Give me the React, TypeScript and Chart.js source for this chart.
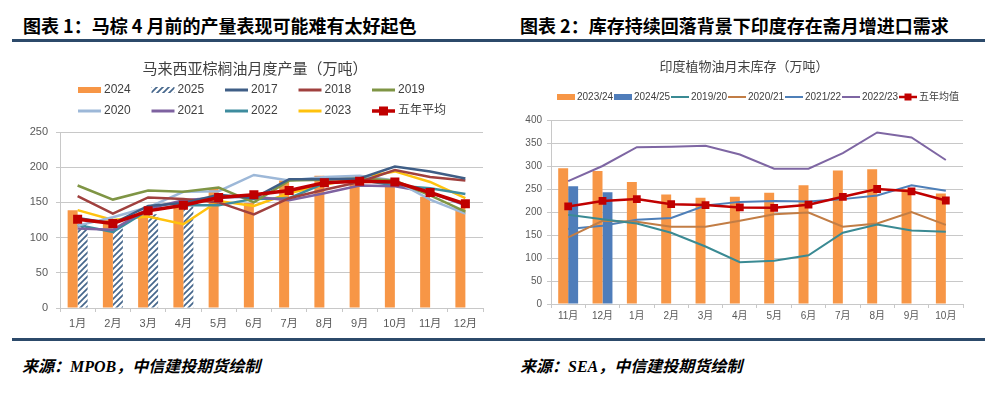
import React, { useEffect, useRef } from "react";
import { Chart, registerables } from "chart.js";
Chart.register(...registerables);

// ---------- Left chart data (Malaysia palm oil monthly production, 万吨) ----------
const MONTHS_MY = ["1月", "2月", "3月", "4月", "5月", "6月", "7月", "8月", "9月", "10月", "11月", "12月"];
const PROD_2024 = [139, 128, 137, 147, 170, 149, 181, 188, 179, 178, 158, 142];
const PROD_2025 = [120, 113, 133, 144, null, null, null, null, null, null, null, null];
const PROD_2017 = [128, 120, 145, 149, 161, 156, 183, 183, 184, 201, 194, 184];
const PROD_2018 = [159, 134, 157, 155, 150, 133, 156, 168, 179, 196, 186, 181];
const PROD_2019 = [174, 154, 167, 165, 171, 150, 181, 182, 184, 181, 160, 137];
const PROD_2020 = [117, 129, 143, 165, 166, 189, 181, 186, 188, 181, 154, 134];
const PROD_2021 = [113, 111, 141, 153, 157, 158, 153, 163, 174, 173, 164, 146];
const PROD_2022 = [118, 108, 139, 146, 146, 155, 156, 177, 182, 174, 170, 162];
const PROD_2023 = [139, 125, 130, 119, 152, 145, 163, 175, 185, 194, 179, 156];
const PROD_AVG5 = [126, 120, 138, 146, 157, 161, 167, 178, 180, 179, 164, 148];
const LEFT_Y_TICKS = [0, 50, 100, 150, 200, 250];

// ---------- Right chart data (India veg oil month-end stocks, 万吨) ----------
const MONTHS_IN = ["11月", "12月", "1月", "2月", "3月", "4月", "5月", "6月", "7月", "8月", "9月", "10月"];
const STOCK_2324 = [295, 289, 265, 238, 231, 233, 242, 258, 290, 293, 250, 240];
const STOCK_2425 = [256, 243, null, null, null, null, null, null, null, null, null, null];
const STOCK_1920 = [194, 184, 175, 155, 125, 91, 94, 106, 155, 173, 160, 157];
const STOCK_2021 = [145, 181, 179, 168, 168, 181, 195, 199, 168, 175, 200, 172];
const STOCK_2122 = [163, 170, 183, 187, 214, 222, 224, 223, 228, 236, 258, 246];
const STOCK_2223 = [267, 300, 341, 342, 344, 325, 294, 294, 328, 373, 362, 313];
const STOCK_AVG5 = [212, 224, 228, 217, 215, 210, 209, 216, 233, 250, 245, 225];
const RIGHT_Y_TICKS = [0, 50, 100, 150, 200, 250, 300, 350, 400];

const TICK_COLOR = "#595959";
const GRID_COLOR = "#C8C8C8";
const NAVY = "#2C4A6A";

function makeHatch(): CanvasPattern | string {
  const c = document.createElement("canvas");
  c.width = 6;
  c.height = 6;
  const g = c.getContext("2d");
  if (!g) return "#4A6A8C";
  g.fillStyle = "#ffffff";
  g.fillRect(0, 0, 6, 6);
  g.strokeStyle = "#46678C";
  g.lineWidth = 1.7;
  g.beginPath();
  g.moveTo(0, 6);
  g.lineTo(6, 0);
  g.moveTo(-3, 3);
  g.lineTo(3, -3);
  g.moveTo(3, 9);
  g.lineTo(9, 3);
  g.stroke();
  return g.createPattern(c, "repeat") || "#4A6A8C";
}

const overlayPlugin = {
  id: "overlay",
  afterDraw(chart: any, _args: any, o: any) {
    if (!o || !o.legend) return;
    const ctx = chart.ctx;
    ctx.save();
    // title
    ctx.font = o.titleFont;
    ctx.fillStyle = o.titleColor;
    ctx.textAlign = "center";
    ctx.textBaseline = "middle";
    ctx.fillText(o.title, o.titleX, o.titleY);
    // legend
    const L = o.legend;
    ctx.font = L.font;
    ctx.textAlign = "left";
    ctx.textBaseline = "middle";
    chart.data.datasets.forEach((ds: any, i: number) => {
      const col = i % L.cols;
      const row = Math.floor(i / L.cols);
      const x = L.x0 + col * L.colW;
      const y = L.y0 + row * L.rowH;
      if (ds.type === "bar") {
        ctx.fillStyle = ds.backgroundColor;
        ctx.fillRect(x, y - L.barH / 2, L.swW, L.barH);
      } else {
        ctx.strokeStyle = ds.borderColor;
        ctx.lineWidth = ds.pointRadius > 0 ? L.avgLineW : L.lineW;
        ctx.beginPath();
        ctx.moveTo(x, y);
        ctx.lineTo(x + L.swW, y);
        ctx.stroke();
        if (ds.pointRadius > 0) {
          const s = L.marker;
          ctx.fillStyle = ds.pointBackgroundColor;
          ctx.fillRect(x + L.swW / 2 - s / 2, y - s / 2, s, s);
        }
      }
      ctx.fillStyle = L.color;
      ctx.fillText(ds.label, x + L.swW + L.gap, y);
    });
    ctx.restore();
  },
};

function lineDs(label: string, data: number[], color: string, width: number) {
  return {
    type: "line",
    label,
    data,
    borderColor: color,
    backgroundColor: color,
    borderWidth: width,
    pointRadius: 0,
    pointHoverRadius: 0,
    tension: 0,
    order: 1,
  };
}

function avgDs(label: string, data: number[], width: number, radius: number) {
  return {
    type: "line",
    label,
    data,
    borderColor: "#C00000",
    backgroundColor: "#C00000",
    pointBackgroundColor: "#C00000",
    pointBorderColor: "#C00000",
    pointStyle: "rect",
    pointRadius: radius,
    pointBorderWidth: 0,
    borderWidth: width,
    tension: 0,
    order: 0,
  };
}

function LeftChart() {
  const ref = useRef<HTMLCanvasElement>(null);
  useEffect(() => {
    if (!ref.current) return;
    const tickFont = { family: "'Liberation Sans', 'Noto Sans CJK SC', sans-serif", size: 11 };
    const chart = new Chart(ref.current, {
      type: "bar",
      data: {
        labels: MONTHS_MY,
        datasets: [
          { type: "bar", label: "2024", data: PROD_2024, backgroundColor: "#F79646", order: 5, barPercentage: 1, categoryPercentage: 0.567 },
          { type: "bar", label: "2025", data: PROD_2025, backgroundColor: makeHatch(), order: 5, barPercentage: 1, categoryPercentage: 0.567 },
          lineDs("2017", PROD_2017, "#3F5E86", 2.5),
          lineDs("2018", PROD_2018, "#A0403E", 2.5),
          lineDs("2019", PROD_2019, "#7F9545", 2.5),
          lineDs("2020", PROD_2020, "#9DB8D8", 2.5),
          lineDs("2021", PROD_2021, "#7E62A0", 2.5),
          lineDs("2022", PROD_2022, "#3E8C9E", 2.5),
          lineDs("2023", PROD_2023, "#FFC20E", 2.5),
          avgDs("五年平均", PROD_AVG5, 3.5, 6.4),
        ] as any,
      },
      options: {
        animation: false,
        responsive: false,
        devicePixelRatio: 1,
        events: [],
        layout: { padding: { top: 84, left: 10, right: 15, bottom: 8 } },
        plugins: {
          legend: { display: false },
          tooltip: { enabled: false },
          title: { display: false },
          overlay: {
            title: "马来西亚棕榈油月度产量（万吨）",
            titleFont: "15px 'Noto Sans CJK SC', sans-serif",
            titleColor: "#404040",
            titleX: 245,
            titleY: 20,
            legend: {
              x0: 68, y0: 42, colW: 73.5, rowH: 21, cols: 5, swW: 23, barH: 6, gap: 3,
              lineW: 3, avgLineW: 3.5, marker: 9,
              font: "12px 'Liberation Sans', 'Noto Sans CJK SC', sans-serif",
              color: "#404040",
            },
          },
        } as any,
        scales: {
          x: {
            grid: { display: true, drawOnChartArea: false, drawTicks: true, tickLength: 4, color: GRID_COLOR, offset: true },
            border: { color: GRID_COLOR },
            ticks: { font: tickFont, color: TICK_COLOR, padding: 5, maxRotation: 0, autoSkip: false },
            afterFit: (s: any) => { s.height = 22; },
          },
          y: {
            min: 0,
            max: 250,
            afterBuildTicks: (s: any) => { s.ticks = LEFT_Y_TICKS.map((v) => ({ value: v })); },
            grid: { color: GRID_COLOR, tickLength: 4, drawTicks: true },
            border: { color: GRID_COLOR },
            ticks: { font: tickFont, color: TICK_COLOR, padding: 8 },
            afterFit: (s: any) => { s.width = 40; },
          },
        },
      } as any,
      plugins: [overlayPlugin],
    });
    return () => chart.destroy();
  }, []);
  return <canvas ref={ref} width={488} height={290} />;
}

function RightChart() {
  const ref = useRef<HTMLCanvasElement>(null);
  useEffect(() => {
    if (!ref.current) return;
    const tickFont = { family: "'Liberation Sans', 'Noto Sans CJK SC', sans-serif", size: 10 };
    const chart = new Chart(ref.current, {
      type: "bar",
      data: {
        labels: MONTHS_IN,
        datasets: [
          { type: "bar", label: "2023/24", data: STOCK_2324, backgroundColor: "#F79646", order: 5, barPercentage: 1, categoryPercentage: 0.58 },
          { type: "bar", label: "2024/25", data: STOCK_2425, backgroundColor: "#4F7DBA", order: 5, barPercentage: 1, categoryPercentage: 0.58 },
          lineDs("2019/20", STOCK_1920, "#3A8A93", 2),
          lineDs("2020/21", STOCK_2021, "#C27D45", 2),
          lineDs("2021/22", STOCK_2122, "#4E7FB8", 2),
          lineDs("2022/23", STOCK_2223, "#7E66A3", 2),
          avgDs("五年均值", STOCK_AVG5, 2.5, 5.5),
        ] as any,
      },
      options: {
        animation: false,
        responsive: false,
        devicePixelRatio: 1,
        events: [],
        layout: { padding: { top: 72, left: 10, right: 30, bottom: 14 } },
        plugins: {
          legend: { display: false },
          tooltip: { enabled: false },
          title: { display: false },
          overlay: {
            title: "印度植物油月末库存（万吨）",
            titleFont: "13px 'Noto Sans CJK SC', sans-serif",
            titleColor: "#404040",
            titleX: 239,
            titleY: 18,
            legend: {
              x0: 52, y0: 49, colW: 57, rowH: 20, cols: 7, swW: 18, barH: 6, gap: 2,
              lineW: 2, avgLineW: 2.5, marker: 7,
              font: "10px 'Liberation Sans', 'Noto Sans CJK SC', sans-serif",
              color: "#404040",
            },
          },
        } as any,
        scales: {
          x: {
            grid: { display: true, drawOnChartArea: false, drawTicks: true, tickLength: 4, color: GRID_COLOR, offset: true },
            border: { color: GRID_COLOR },
            ticks: { font: tickFont, color: TICK_COLOR, padding: 2, maxRotation: 0, autoSkip: false },
            afterFit: (s: any) => { s.height = 20; },
          },
          y: {
            min: 0,
            max: 400,
            afterBuildTicks: (s: any) => { s.ticks = RIGHT_Y_TICKS.map((v) => ({ value: v })); },
            grid: { color: GRID_COLOR, tickLength: 4, drawTicks: true },
            border: { color: GRID_COLOR },
            ticks: { font: tickFont, color: TICK_COLOR, padding: 5 },
            afterFit: (s: any) => { s.width = 36; },
          },
        },
      } as any,
      plugins: [overlayPlugin],
    });
    return () => chart.destroy();
  }, []);
  return <canvas ref={ref} width={488} height={290} />;
}

export default function App() {
  const headFont = "'Noto Sans CJK SC', 'Liberation Sans', sans-serif";
  const srcFont = "'Liberation Serif', 'Noto Sans CJK SC', serif";
  return (
    <div style={{ position: "absolute", left: 0, top: 0, width: 1002, height: 396, background: "#fff", overflow: "hidden" }}>
      <div style={{ position: "absolute", left: 23, top: 13, fontFamily: headFont, fontWeight: 700, fontSize: 18, lineHeight: "24px", color: "#000", whiteSpace: "nowrap" }}>
        图表 1：马棕 4 月前的产量表现可能难有太好起色
      </div>
      <div style={{ position: "absolute", left: 520, top: 13, fontFamily: headFont, fontWeight: 700, fontSize: 18, lineHeight: "24px", color: "#000", whiteSpace: "nowrap" }}>
        图表 2：库存持续回落背景下印度存在斋月增进口需求
      </div>
      <div style={{ position: "absolute", left: 12, top: 39, width: 973, height: 3, background: NAVY }} />
      <div style={{ position: "absolute", left: 10, top: 48, width: 488, height: 290 }}>
        <LeftChart />
      </div>
      <div style={{ position: "absolute", left: 505, top: 48, width: 488, height: 290 }}>
        <RightChart />
      </div>
      <div style={{ position: "absolute", left: 12, top: 338, width: 973, height: 3, background: NAVY }} />
      <div style={{ position: "absolute", left: 22, top: 356, fontFamily: srcFont, fontWeight: 700, fontStyle: "italic", fontSize: 16, lineHeight: "22px", color: "#000", whiteSpace: "nowrap" }}>
        来源：MPOB，中信建投期货绘制
      </div>
      <div style={{ position: "absolute", left: 520, top: 356, fontFamily: srcFont, fontWeight: 700, fontStyle: "italic", fontSize: 16, lineHeight: "22px", color: "#000", whiteSpace: "nowrap" }}>
        来源：SEA，中信建投期货绘制
      </div>
    </div>
  );
}
